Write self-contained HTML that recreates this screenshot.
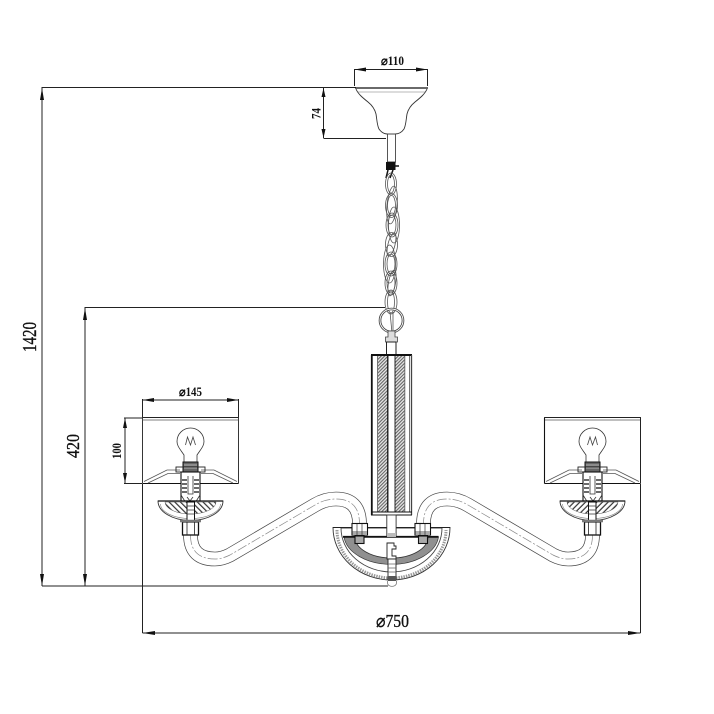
<!DOCTYPE html>
<html><head><meta charset="utf-8"><style>
html,body{margin:0;padding:0;background:#fff}
svg{display:block}
text{font-family:"Liberation Serif",serif;font-weight:bold;fill:#111}
.n{font-weight:normal;stroke:#111;stroke-width:.35px}
</style></head><body>
<svg width="714" height="714" viewBox="0 0 714 714" xmlns="http://www.w3.org/2000/svg">
<defs>
<pattern id="h" width="2.4" height="2.4" patternUnits="userSpaceOnUse" patternTransform="rotate(45)"><rect width="2.4" height="2.4" fill="#e8e8e8"/><rect width="1.1" height="2.4" fill="#666"/></pattern>
<pattern id="h2" width="4" height="4" patternUnits="userSpaceOnUse" patternTransform="rotate(-45)"><rect width="4" height="4" fill="#fff"/><rect width="1.2" height="4" fill="#333"/></pattern>
<g id="arm">
<path d="M190.5,535Q190.5,559 215,559Q222,559 230,555L315,505Q325,499 336,499Q359,499 359.5,523" fill="none" stroke="#444" stroke-width="14.6"/>
<path d="M190.5,535Q190.5,559 215,559Q222,559 230,555L315,505Q325,499 336,499Q359,499 359.5,523" fill="none" stroke="#fff" stroke-width="13.2"/>
<path d="M190.5,535Q190.5,559 215,559Q222,559 230,555L315,505Q325,499 336,499Q359,499 359.5,523" fill="none" stroke="#888" stroke-width=".7" stroke-dasharray="10 2 2 2"/>
</g>
<g id="lamp">
<rect x="142.5" y="418" width="95.5" height="65.5" fill="#fff" stroke="none"/>
<path d="M142.5,483.5V417.5H238.5V483.5" fill="none" stroke="#222" stroke-width=".9"/>
<path d="M142.5,420H238.5" stroke="#555" stroke-width=".8"/>
<path d="M142.5,483.5H238.5" stroke="#111" stroke-width="1.1"/>
<path d="M144,481.500L167,470H180M148,483L168,473.500H180M237,481.500L214,470H201M233,483L213,473.500H201" fill="none" stroke="#555" stroke-width=".8"/>
<path d="M184,455C180,449 177,446 177,441.500A13.300,13.300 0 0 1 204,441.500C204,446 201,449 197,455V462H184Z" fill="#fff" stroke="#333" stroke-width=".8"/>
<path d="M185.500,445L187.500,437L190.500,445L193,437L195.500,445" fill="none" stroke="#444" stroke-width=".8"/>
<rect x="183" y="462" width="15" height="10" fill="#666" stroke="#111"/>
<path d="M184,465H197M184,468H197" stroke="#ccc" stroke-width=".8"/>
<rect x="176" y="467" width="29" height="5" fill="none" stroke="#222" stroke-width=".9"/>
<rect x="181" y="472" width="19" height="29" fill="#fff" stroke="#111" stroke-width="1.100"/>
<path d="M182,480H187M194,480H199M182,484H187M194,484H199M182,488H187M194,488H199M182,492H187M194,492H199" stroke="#111" stroke-width="1.300"/>
<path d="M188,476V494H193V476" fill="none" stroke="#333" stroke-width=".8"/>
<path d="M181,495L186,503M200,495L195,503M187,497L190,501L193,497" fill="none" stroke="#333" stroke-width=".8"/>
<path d="M158,501H223A32.500,19.500 0 0 1 158,501Z" fill="#fff" stroke="#333" stroke-width=".9"/>
<path d="M165,502H216A25.500,12 0 0 1 165,502Z" fill="url(#h2)" stroke="#555" stroke-width=".5"/>
<path d="M160.500,504A30,14.500 0 0 0 220.500,504" fill="none" stroke="#888" stroke-width=".7"/>
<path d="M158,501H223" stroke="#111" stroke-width="1.200"/>
<rect x="187" y="502" width="7.500" height="20" fill="#fff" stroke="#111" stroke-width="1"/>
<path d="M187,506H194.500M187,510H194.500M187,514H194.500" stroke="#333" stroke-width=".8"/>
<rect x="182.500" y="522" width="16" height="13" fill="#fff" stroke="#111" stroke-width="1.300"/>
<path d="M180,521H201" stroke="#777" stroke-width="2.500"/>
<path d="M187,522V535M194.500,522V535" stroke="#222" stroke-width=".8"/>
</g>
</defs>

<!-- dimension lines -->
<g stroke="#222" stroke-width="1" fill="none">
<path d="M42,87.500H356M42,87V586M42,586H388"/>
<path d="M85,307.500H385M85,307V586"/>
<path d="M354.500,69V86M427.500,69V86M354.500,69.500H427.500"/>
<path d="M323.500,87.500V138M323.500,138.500H386"/>
<path d="M142.500,399V417M238.500,399V417M142.500,400H238.500"/>
<path d="M124,418H142M124,483.500H142M125,418V483"/>
<path d="M142.500,484V633M640.500,484V633M142.500,633H640.500"/>
</g>
<g fill="#111">
<path d="M42,88L40,100H44ZM42,586L40,574H44Z"/>
<path d="M85,308L83,320H87ZM85,586L83,574H87Z"/>
<path d="M354.500,69.500L366,67.500V71.500ZM427.500,69.500L416,67.500V71.500Z"/>
<path d="M323.500,88L321.500,97H325.500ZM323.500,138L321.500,129H325.500Z"/>
<path d="M142.500,400L154,398V402ZM238.500,400L227,398V402Z"/>
<path d="M125,418L123,428H127ZM125,483L123,473H127Z"/>
<path d="M142.500,633L155,631V635ZM640.500,633L628,631V635Z"/>
</g>

<!-- labels -->
<text x="381" y="65" font-size="12.500" textLength="23" lengthAdjust="spacingAndGlyphs">⌀110</text>
<text x="179" y="396" font-size="12.500" textLength="23" lengthAdjust="spacingAndGlyphs">⌀145</text>
<text class="n" x="376" y="627" font-size="18" textLength="33" lengthAdjust="spacingAndGlyphs">⌀750</text>
<text transform="translate(320.500,119) rotate(-90)" font-size="13" textLength="11" lengthAdjust="spacingAndGlyphs">74</text>
<text transform="translate(121,459) rotate(-90)" font-size="13" textLength="16" lengthAdjust="spacingAndGlyphs">100</text>
<text class="n" transform="translate(79,458) rotate(-90)" font-size="18" textLength="24" lengthAdjust="spacingAndGlyphs">420</text>
<text class="n" transform="translate(36,352) rotate(-90)" font-size="20" textLength="30" lengthAdjust="spacingAndGlyphs">1420</text>

<!-- arms -->
<use href="#arm"/>
<use href="#arm" transform="matrix(-1 0 0 1 783 0)"/>

<!-- canopy -->
<path d="M355,88H428" stroke="#111" stroke-width="1.200"/>
<path d="M356,89C358,94 363,98 368,102C373,106 375,110 376,114C377,120 377,125 379,129C381,132 384,134 388,134H395C399,134 402,132 404,129C406,125 406,120 407,114C408,110 410,106 415,102C420,98 425,94 427,89" fill="#fff" stroke="#333" stroke-width=".9"/>
<path d="M358,92H425" stroke="#777" stroke-width=".6"/>
<path d="M387.500,134H395.500V162H387.500Z" fill="#fff" stroke="#444" stroke-width=".9"/>
<rect x="386" y="162" width="9.500" height="8" fill="#111"/>
<path d="M395,166H399" stroke="#111" stroke-width="1.500"/>
<path d="M388,170L386,178M393,170L390,178" stroke="#111" stroke-width="1.500"/>

<!-- chain -->
<g fill="none" stroke="#555" stroke-width=".8">
<ellipse cx="391" cy="184" rx="5.500" ry="11"/><ellipse cx="391" cy="184" rx="3.500" ry="9"/>
<ellipse cx="391.500" cy="205.500" rx="6" ry="12"/><ellipse cx="391.500" cy="205.500" rx="4" ry="10"/><ellipse cx="392" cy="205" rx="5" ry="19" transform="rotate(6 392 205)"/>
<ellipse cx="392" cy="225" rx="6" ry="12"/><ellipse cx="392" cy="225" rx="4" ry="10"/><ellipse cx="394" cy="225" rx="5.500" ry="18"/>
<ellipse cx="391.500" cy="244.500" rx="6" ry="12"/><ellipse cx="391.500" cy="244.500" rx="3.500" ry="12" transform="rotate(14 391.500 244.500)"/>
<ellipse cx="391" cy="264" rx="6" ry="12"/><ellipse cx="391" cy="264" rx="4" ry="10"/><ellipse cx="389.500" cy="264" rx="6" ry="19"/>
<ellipse cx="391" cy="283" rx="6" ry="12"/><ellipse cx="391" cy="283" rx="4" ry="10"/><ellipse cx="392" cy="283" rx="3.500" ry="13" transform="rotate(10 392 283)"/>
<ellipse cx="391" cy="302" rx="6" ry="12"/><ellipse cx="391" cy="302" rx="3.500" ry="11"/>
<path d="M390,312L392,333M393,312L393,333"/>
</g>
<circle cx="391.500" cy="320.500" r="11.500" fill="none" stroke="#444" stroke-width="2.600"/>
<circle cx="391.500" cy="320.500" r="11.500" fill="none" stroke="#fff" stroke-width=".9"/>
<path d="M388,331H395V337H397.500V342H385.500V337H388Z" fill="#ddd" stroke="#444" stroke-width=".8"/>
<rect x="386.500" y="342" width="9.500" height="13" fill="#fff" stroke="#222" stroke-width="1"/>

<!-- column -->
<rect x="371.500" y="355" width="40" height="160" fill="#fff"/>
<rect x="378" y="356" width="10" height="156" fill="url(#h)"/>
<rect x="395" y="356" width="10" height="156" fill="url(#h)"/>
<g fill="none" stroke="#111">
<path d="M371,355H412" stroke-width="2"/>
<path d="M371.800,355V515" stroke-width="1.800"/>
<path d="M377.500,356V512M409.500,356V512M404.800,356V512" stroke="#666" stroke-width=".9"/>
<path d="M387.800,356V512" stroke-width="1.300"/>
<path d="M395,356V512" stroke-width=".9"/>
<path d="M411.500,355V515" stroke="#444" stroke-width="1.300"/>
<path d="M371,512H412M371,515H412" stroke-width="1"/>
</g>

<!-- lower bowl -->
<path d="M333,527.500A58.500,52.500 0 0 0 450,527.500Z" fill="#fff" stroke="#333" stroke-width=".9"/>
<path d="M341,528A50.500,44 0 0 0 442,528Z" fill="#fff" stroke="#444" stroke-width=".9"/>
<path d="M337,530A54.500,48 0 0 0 446,530" fill="none" stroke="#999" stroke-width="3" stroke-dasharray="1.500 1"/>
<path d="M344,537A47.500,30.500 0 0 0 438.500,537Z" fill="#909090" stroke="#333" stroke-width=".7"/>
<path d="M355,537A36.500,21 0 0 0 428,537Z" fill="#fff" stroke="#333" stroke-width=".8"/>
<path d="M333,527.500H450" stroke="#222" stroke-width="1.100"/>
<path d="M343,536.800H438.500" stroke="#111" stroke-width="1.800"/>
<rect x="386.800" y="515" width="9.300" height="21" fill="#fff" stroke="#333" stroke-width=".9"/>
<rect x="387" y="533" width="9" height="4" fill="#bbb"/>
<!-- blocks -->
<g stroke="#111" stroke-width="1.100" fill="#fff">
<rect x="352" y="523.500" width="15.500" height="11.500"/>
<rect x="415" y="523.500" width="15.500" height="11.500"/>
<rect x="355" y="536" width="9" height="7.500" fill="#aaa"/>
<rect x="418.500" y="536" width="9" height="7.500" fill="#aaa"/>
</g>
<rect x="352.500" y="531" width="14.500" height="4" fill="#aaa"/>
<rect x="415.500" y="531" width="14.500" height="4" fill="#aaa"/>
<path d="M357,524V535M362,524V535M420,524V535M425,524V535" stroke="#333" stroke-width=".7"/>
<!-- center clip -->
<path d="M388,543H394V546H396V549H392V556H396V559H387V543Z" fill="#fff" stroke="#222" stroke-width=".9"/>
<rect x="388" y="559" width="8" height="21" fill="#fff" stroke="#222" stroke-width=".9"/>
<path d="M388,564H396M388,568H396M388,572H396" stroke="#666" stroke-width=".7"/>
<rect x="388" y="576" width="8" height="5" fill="#555"/>
<path d="M387.500,581V583A4,3 0 0 0 396.500,583V581" fill="#fff" stroke="#777" stroke-width=".8"/>

<!-- lamps -->
<use href="#lamp"/>
<use href="#lamp" transform="matrix(-1 0 0 1 783 0)"/>
<path d="M544.500,483.500V418" stroke="#111" stroke-width="1.100"/>
<path d="M640.500,418V483" stroke="#222" stroke-width="1"/>
</svg>
</body></html>
